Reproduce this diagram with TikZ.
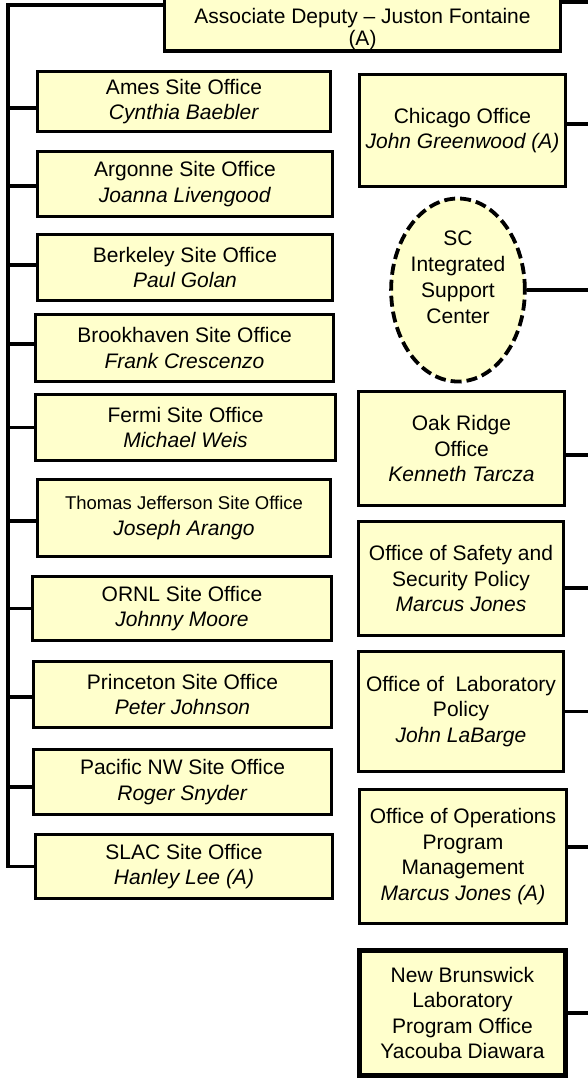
\documentclass[tikz,border=0pt]{standalone}
\usepackage{fontspec}
\setmainfont{Liberation Sans}
\usetikzlibrary{shapes.geometric}
\definecolor{boxfill}{RGB}{255,255,204}
\begin{document}
\begin{tikzpicture}[x=1pt,y=-1pt,
  box/.style={draw=black, line width=3.5pt, fill=boxfill, rectangle, align=center,
    inner sep=1pt, font=\fontsize{21}{25.5}\selectfont},
  conn/.style={draw=black, line width=3.5pt},
  oval/.style={draw=black, line width=3.8pt, fill=boxfill, ellipse,
    dash pattern=on 11pt off 5pt, align=center, inner sep=0pt,
    font=\fontsize{21}{25.7}\selectfont}
]
\useasboundingbox (0,0) rectangle (587,1080);

% top
\node[box, font=\fontsize{21}{22}\selectfont, minimum width=396pt, minimum height=52.5pt] (top) at (362.5,22)
  {\mbox{}\\[8pt]Associate Deputy -- Juston Fontaine\\(A)};

% left column
\node[box, minimum width=293pt, minimum height=60pt] (ames) at (184,101.5)
  {Ames Site Office\\\textit{Cynthia Baebler}};
\node[box, minimum width=295pt, minimum height=65pt] (argonne) at (185,184)
  {Argonne Site Office\\\textit{Joanna Livengood}};
\node[box, minimum width=295pt, minimum height=66pt] (berkeley) at (185,267.5)
  {Berkeley Site Office\\\textit{Paul Golan}};
\node[box, minimum width=298pt, minimum height=67pt] (brook) at (184.5,348)
  {Brookhaven Site Office\\\textit{Frank Crescenzo}};
\node[box, minimum width=300pt, minimum height=66pt] (fermi) at (185.5,427.5)
  {Fermi Site Office\\\textit{Michael Weis}};
\node[box, minimum width=293pt, minimum height=77pt] (jlab) at (184,518)
  {{\fontsize{18.5}{22}\selectfont Thomas Jefferson Site Office}\\\textit{Joseph Arango}};
\node[box, minimum width=299pt, minimum height=64pt] (ornl) at (182,608.5)
  {ORNL Site Office\\\textit{Johnny Moore}};
\node[box, minimum width=298pt, minimum height=66pt] (princeton) at (182.5,694.5)
  {Princeton Site Office\\\textit{Peter Johnson}};
\node[box, minimum width=298pt, minimum height=65pt] (pnnl) at (182.5,782)
  {Pacific NW Site Office\\\textit{Roger Snyder}};
\node[box, minimum width=297pt, minimum height=64pt] (slac) at (184,866.5)
  {SLAC Site Office\\\textit{Hanley Lee (A)}};

% right column
\node[box, minimum width=206pt, minimum height=112pt] (chicago) at (462.5,130.5)
  {Chicago Office\\\textit{John Greenwood (A)}};
\node[oval, minimum width=127pt, minimum height=183pt] (isc) at (458,290)
  {SC\\Integrated\\Support\\Center\\\mbox{}};
\node[box, minimum width=206pt, minimum height=114pt] (oak) at (461.5,448.5)
  {Oak Ridge\\Office\\\textit{Kenneth Tarcza}};
\node[box, minimum width=205pt, minimum height=114pt] (safety) at (461,578.5)
  {Office of Safety and\\Security Policy\\\textit{Marcus Jones}};
\node[box, minimum width=205pt, minimum height=120pt] (labpol) at (461,711.5)
  {Office of\ \ Laboratory\\Policy\\\textit{John LaBarge}};
\node[box, minimum width=207pt, minimum height=134pt] (ops) at (463,856.5)
  {Office of Operations\\Program\\Management\\\textit{Marcus Jones (A)}};
\node[box, line width=5pt, minimum width=206pt, minimum height=125pt] (nbl) at (462.5,1013)
  {New Brunswick\\Laboratory\\Program Office\\Yacouba Diawara};

% connectors
\coordinate (spine) at (8,5);
\coordinate (rail) at (595,0);
\coordinate (tr) at (595,2);
\draw[conn] (top.west |- spine) -- (spine) -- (spine |- slac.west) -- (slac.west);
\draw[conn] (top.east |- tr) -- (tr);
\draw[conn] ([yshift=-6.5pt]ames.west) -- ([yshift=-6.5pt]ames.west -| spine);
\draw[conn] ([yshift=-2pt]argonne.west) -- ([yshift=-2pt]argonne.west -| spine);
\draw[conn] ([yshift=2.5pt]berkeley.west) -- ([yshift=2.5pt]berkeley.west -| spine);
\draw[conn] ([yshift=4pt]brook.west) -- ([yshift=4pt]brook.west -| spine);
\draw[conn] (fermi.west) -- (fermi.west -| spine);
\draw[conn] ([yshift=-3pt]jlab.west) -- ([yshift=-3pt]jlab.west -| spine);
\draw[conn] (ornl.west) -- (ornl.west -| spine);
\draw[conn] ([yshift=-2.5pt]princeton.west) -- ([yshift=-2.5pt]princeton.west -| spine);
\draw[conn] ([yshift=-5pt]pnnl.west) -- ([yshift=-5pt]pnnl.west -| spine);

\draw[conn] ([yshift=6.5pt]chicago.east) -- ([yshift=6.5pt]chicago.east -| rail);
\draw[conn] (isc.east) -- (isc.east -| rail);
\draw[conn] ([yshift=-6.5pt]oak.east) -- ([yshift=-6.5pt]oak.east -| rail);
\draw[conn] ([yshift=-9.5pt]safety.east) -- ([yshift=-9.5pt]safety.east -| rail);
\draw[conn] (labpol.east) -- (labpol.east -| rail);
\draw[conn] ([yshift=9.5pt]ops.east) -- ([yshift=9.5pt]ops.east -| rail);
\draw[conn] (nbl.east) -- (nbl.east -| rail);
\end{tikzpicture}
\end{document}
